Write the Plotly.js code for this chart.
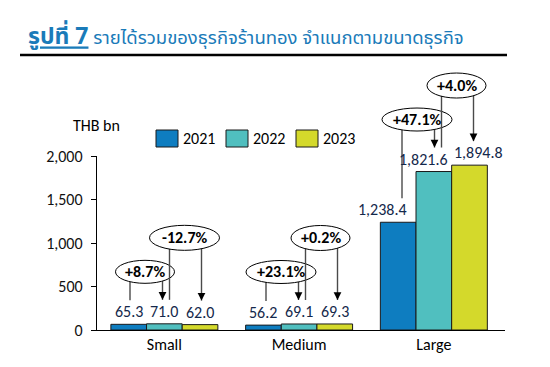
<!DOCTYPE html>
<html>
<head>
<meta charset="utf-8">
<script src="https://cdn.plot.ly/plotly-3.0.1.min.js"></script>
<style>html,body{margin:0;padding:0;background:#fff;}#chart{width:550px;height:367px;}</style>
</head>
<body>
<div id="chart"></div>
<script>
// ---- data ----
const categories = ['Small', 'Medium', 'Large'];
const years = ['2021', '2022', '2023'];
const values2021 = [65.3, 56.2, 1238.4];
const values2022 = [71.0, 69.1, 1821.6];
const values2023 = [62.0, 69.3, 1894.8];
const growth2022 = ['+8.7%', '+23.1%', '+47.1%'];
const growth2023 = ['-12.7%', '+0.2%', '+4.0%'];
const yTicks = [0, 500, 1000, 1500, 2000];

// ---- styling ----
const FONT = "Carlito, Calibri, Lato, 'Open Sans', sans-serif";
const colors = ['#0e7dc0', '#50bfbf', '#d4d92b'];
const labelColor = '#14284b';
const series = [values2021, values2022, values2023];
// per-label horizontal nudges (px) for the value labels, [series][category]
const labelShift = [[0, 0, -16], [0, 0, -10], [0, 0, 9]];

const traces = series.map((vals, k) => ({
  type: 'bar',
  name: years[k],
  x: categories,
  y: vals,
  marker: {color: colors[k], line: {color: '#1a1a1a', width: 1}},
  showlegend: false,
  hoverinfo: 'skip'
}));

// geometry helpers (plot area: 408 x 174 px, y range 0..2000, 3 categories)
const YMAX = 2000;
const PX = YMAX / 174;       // data units per pixel (y)
const CX = 1 / 136;          // category units per pixel (x)
const BARW = 0.794 / 3;      // bar width in category units
const px = c => (c + 0.5) / categories.length;  // category coord -> paper x
const py = v => v / YMAX;                        // data value -> paper y

const shapes = [];
const annotations = [];
const lineColor = '#4a4a4a';

function vline(x, y0, y1) {
  shapes.push({type: 'line', xref: 'paper', yref: 'paper', x0: px(x), x1: px(x), y0: py(y0), y1: py(y1),
    line: {color: lineColor, width: 1.4}});
}
function arrowHead(x, yEnd) {
  annotations.push({xref: 'paper', yref: 'paper', x: px(x), y: py(yEnd), ax: 0, ay: -8,
    text: '', showarrow: true, arrowhead: 2, arrowsize: 1.1, arrowwidth: 1.4, arrowcolor: '#000', standoff: 0});
}
function ellipse(cx, cy, label, hw, hh) {
  shapes.push({type: 'circle', xref: 'paper', yref: 'paper',
    x0: px(cx - hw * CX), x1: px(cx + hw * CX), y0: py(cy - hh * PX), y1: py(cy + hh * PX),
    fillcolor: '#ffffff', line: {color: '#000', width: 1}});
  annotations.push({xref: 'paper', yref: 'paper', x: px(cx), y: py(cy), text: '<b>' + label + '</b>',
    showarrow: false, xanchor: 'center', yanchor: 'middle',
    font: {family: FONT, size: 16, color: '#000'}});
}

categories.forEach((c, i) => {
  const a = values2021[i], b = values2022[i], d = values2023[i];
  const lowerCy = Math.max(a, b) + 52 * PX;
  const upperCy = lowerCy + 34 * PX;
  // lower comparison (2021 -> 2022)
  vline(i - 35 * CX, lowerCy, a + 24 * PX);
  vline(i - 2.5 * CX, lowerCy, b + 24 * PX);
  arrowHead(i - 2.5 * CX, b + 24 * PX);
  ellipse(i - 20 * CX, lowerCy, growth2022[i], (11 * growth2022[i].length + 4) / 2, 11.5);
  // upper comparison (2022 -> 2023)
  vline(i + 4.5 * CX, upperCy, b + 24 * PX);
  vline(i + 36.5 * CX, upperCy, d + 24 * PX);
  arrowHead(i + 36.5 * CX, d + 24 * PX);
  ellipse(i + 19.5 * CX, upperCy, growth2023[i], (11 * growth2023[i].length + 4) / 2, 12.5);
});

// value labels above the bars
series.forEach((vals, k) => {
  vals.forEach((v, i) => {
    annotations.push({xref: 'x', yref: 'y', x: i + (k - 1) * BARW, y: v, yanchor: 'bottom', yshift: 1,
      xshift: labelShift[k][i], showarrow: false,
      text: v.toLocaleString('en-US', {minimumFractionDigits: 1, maximumFractionDigits: 1}),
      font: {family: FONT, size: 16, color: labelColor}});
  });
});

// custom legend (larger swatches like the reference)
const toPX = x => (x - 97) / 408, toPY = y => (330 - y) / 174;
years.forEach((yr, k) => {
  const left = 156 + 70 * k;
  shapes.push({type: 'rect', xref: 'paper', yref: 'paper', x0: toPX(left), x1: toPX(left + 22),
    y0: toPY(147), y1: toPY(130), fillcolor: colors[k], line: {color: '#1a1a1a', width: 1}});
  annotations.push({xref: 'paper', yref: 'paper', x: toPX(left + 25), y: toPY(138.5), xanchor: 'left',
    yanchor: 'middle', text: yr, showarrow: false, font: {family: FONT, size: 16, color: '#000'}});
});

// title rule line
shapes.push({type: 'line', xref: 'paper', yref: 'paper', x0: toPX(20), x1: toPX(507),
  y0: toPY(55), y1: toPY(55), line: {color: '#000', width: 2.5}});

// y unit label
annotations.push({xref: 'paper', yref: 'paper', x: toPX(96), y: toPY(125), text: 'THB bn', showarrow: false,
  xanchor: 'center', yanchor: 'middle', font: {family: FONT, size: 16, color: '#000'}});

const layout = {
  width: 550, height: 367,
  margin: {l: 97, r: 45, t: 156, b: 37},
  paper_bgcolor: '#fff', plot_bgcolor: '#fff',
  barmode: 'group', bargap: 0.206, bargroupgap: 0,
  showlegend: false,
  title: {text: '<span style="font-size:23px"><b><u>รูปที่ 7</u></b></span> รายได้รวมของธุรกิจร้านทอง จำแนกตามขนาดธุรกิจ',
    x: 28 / 550, xanchor: 'left', xref: 'container', y: 1 - 38 / 367, yanchor: 'middle', yref: 'container',
    font: {family: "Tahoma, 'Noto Sans Thai', 'Noto Sans', sans-serif", size: 18.5, color: '#1a7bb9'}},
  xaxis: {type: 'category', showline: true, linecolor: '#000', linewidth: 1.2, ticks: '', showgrid: false,
    zeroline: false, tickfont: {family: FONT, size: 16, color: '#000'}, fixedrange: true},
  yaxis: {range: [0, YMAX], tickvals: yTicks, showline: true, linecolor: '#000', linewidth: 1.2,
    ticks: 'outside', ticklen: 5, tickcolor: '#000', showgrid: false, zeroline: false,
    separatethousands: true, tickformat: ',d', ticklabelstandoff: 5,
    tickfont: {family: FONT, size: 16, color: '#111'}, fixedrange: true},
  shapes: shapes,
  annotations: annotations
};

Plotly.newPlot('chart', traces, layout, {displayModeBar: false, staticPlot: true});
</script>
</body>
</html>
